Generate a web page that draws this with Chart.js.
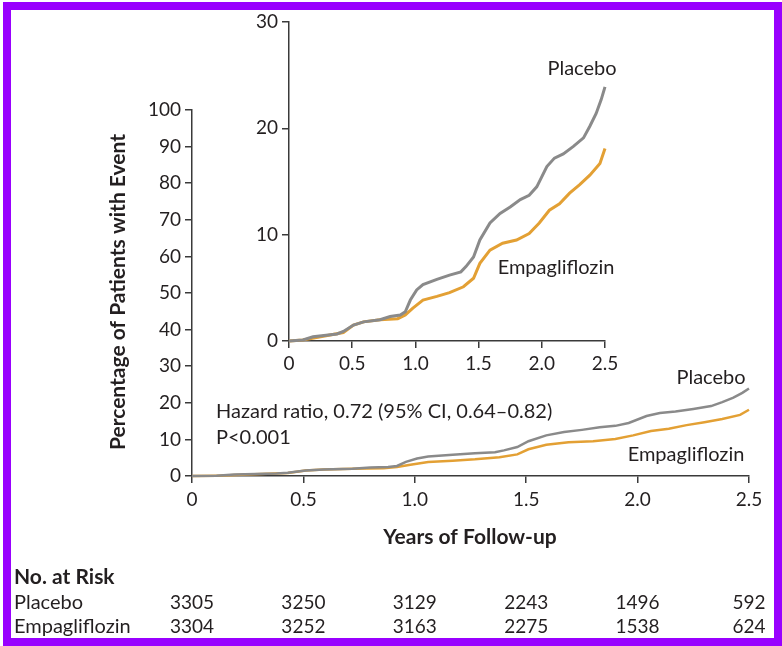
<!DOCTYPE html>
<html>
<head>
  <title>Empagliflozin vs Placebo</title>
  <script src="https://cdn.jsdelivr.net/npm/chart.js"></script>
  <style>
    body {
      margin: 0;
      background: #fff;
    }
    #wrap {
      position: relative;
      width: 782px;
      height: 646px;
      overflow: hidden;
    }
    canvas {
      position: absolute;
      left: 0;
      top: 0;
    }
    #frame {
      position: absolute;
      left: 3px;
      top: 2px;
      right: 0;
      bottom: 0;
      border: 8px solid #9900ff;
      pointer-events: none;
    }
  </style>
</head>
<body>
<div id="wrap">
  <canvas id="mainChart" width="782" height="646"></canvas>
  <canvas id="insetChart" width="782" height="646"></canvas>
  <div id="frame"></div>
</div>

<script>
  // tick labels
  const xTicks = [0, 0.5, 1, 1.5, 2, 2.5];
  const xTickLabels = ["0", "0.5", "1.0", "1.5", "2.0", "2.5"];

  // cumulative incidence
  const placeboYears = [0, 0.11, 0.19, 0.38, 0.43, 0.51, 0.59, 0.72, 0.80, 0.88, 0.92, 0.96, 1.01, 1.06, 1.17, 1.27, 1.36, 1.40, 1.46, 1.51, 1.59, 1.67, 1.75, 1.83, 1.90, 1.96, 2.04, 2.10, 2.17, 2.25, 2.33, 2.38, 2.43, 2.47, 2.50];
  const placeboPct = [0, 0.1, 0.4, 0.66, 0.9, 1.5, 1.8, 2.0, 2.3, 2.45, 2.75, 3.85, 4.8, 5.3, 5.8, 6.2, 6.5, 7.0, 7.9, 9.5, 11.1, 12.0, 12.6, 13.3, 13.7, 14.5, 16.4, 17.2, 17.6, 18.3, 19.1, 20.2, 21.4, 22.7, 23.9];

  const empaYears = [0, 0.11, 0.25, 0.43, 0.51, 0.59, 0.72, 0.86, 0.92, 0.98, 1.06, 1.17, 1.27, 1.38, 1.46, 1.51, 1.59, 1.69, 1.80, 1.90, 1.98, 2.06, 2.14, 2.22, 2.30, 2.38, 2.46, 2.50];
  const empaPct = [0, 0.1, 0.4, 0.8, 1.5, 1.8, 2.0, 2.1, 2.45, 3.1, 3.85, 4.2, 4.55, 5.1, 5.9, 7.3, 8.55, 9.2, 9.5, 10.1, 11.1, 12.3, 12.9, 13.9, 14.7, 15.6, 16.7, 18.1];

  // number at risk
  const riskPlacebo = [3305, 3250, 3129, 2243, 1496, 592];
  const riskEmpa = [3304, 3252, 3163, 2275, 1538, 624];

  const ink = "#231f20";
  const axisColor = "#3a3a3a";
  const grayLine = "#8a8a8a";
  const goldLine = "#e3a034";
  const fontName = "Lato, sans-serif";

  Chart.defaults.font.family = fontName;
  Chart.defaults.font.size = 19;
  Chart.defaults.color = ink;

  function toPoints(xs, ys) {
    return xs.map((x, i) => ({ x: x, y: ys[i] }));
  }

  function makeDatasets(width) {
    return [
      { label: "Placebo", data: toPoints(placeboYears, placeboPct), borderColor: grayLine,
        borderWidth: width, pointRadius: 0, tension: 0, clip: false },
      { label: "Empagliflozin", data: toPoints(empaYears, empaPct), borderColor: goldLine,
        borderWidth: width, pointRadius: 0, tension: 0, clip: false }
    ];
  }

  function makeScales(yMax, yWidth, xHeight, xPad) {
    return {
      x: {
        type: "linear", min: 0, max: 2.5,
        afterBuildTicks: s => { s.ticks = xTicks.map(v => ({ value: v })); },
        afterFit: s => { s.height = xHeight; },
        border: { color: axisColor, width: 1.5 },
        grid: { drawOnChartArea: false, color: axisColor, lineWidth: 1.5, tickLength: 7 },
        ticks: { padding: xPad, maxRotation: 0, autoSkip: false, callback: (v, i) => xTickLabels[i] }
      },
      y: {
        min: 0, max: yMax,
        afterFit: s => { s.width = yWidth; },
        border: { color: axisColor, width: 1.5 },
        grid: { drawOnChartArea: false, color: axisColor, lineWidth: 1.5, tickLength: 7 },
        ticks: { stepSize: 10, padding: 4, autoSkip: false }
      }
    };
  }

  function drawText(ctx, text, x, y, align, weight, size) {
    ctx.save();
    ctx.font = (weight || "normal") + " " + (size || 20) + "px " + fontName;
    ctx.fillStyle = ink;
    ctx.textAlign = align || "left";
    ctx.textBaseline = "middle";
    ctx.fillText(text, x, y);
    ctx.restore();
  }

  const mainText = {
    id: "mainText",
    afterDraw(chart) {
      const ctx = chart.ctx;
      const xs = chart.scales.x;

      drawText(ctx, "Placebo", 711, 378, "center");
      drawText(ctx, "Empagliflozin", 686, 455, "center");
      drawText(ctx, "Hazard ratio, 0.72 (95% CI, 0.64\u20130.82)", 216, 412);
      drawText(ctx, "P<0.001", 216, 438);

      // axis titles
      ctx.save();
      ctx.translate(118, 292);
      ctx.rotate(-Math.PI / 2);
      drawText(ctx, "Percentage of Patients with Event", 0, 0, "center", "bold", 21);
      ctx.restore();
      drawText(ctx, "Years of Follow-up", 470, 537, "center", "bold", 21);

      // at-risk table
      drawText(ctx, "No. at Risk", 14, 577, "left", "bold", 21);
      drawText(ctx, "Placebo", 14, 603);
      drawText(ctx, "Empagliflozin", 14, 627);
      xTicks.forEach((v, i) => {
        const px = xs.getPixelForValue(v);
        drawText(ctx, String(riskPlacebo[i]), px, 603, "center", "normal", 19);
        drawText(ctx, String(riskEmpa[i]), px, 627, "center", "normal", 19);
      });
    }
  };

  const insetText = {
    id: "insetText",
    afterDraw(chart) {
      drawText(chart.ctx, "Placebo", 582, 69, "center");
      drawText(chart.ctx, "Empagliflozin", 556, 268, "center");
    }
  };

  new Chart(document.getElementById("mainChart"), {
    type: "line",
    data: { datasets: makeDatasets(2.5) },
    options: {
      responsive: false,
      animation: false,
      devicePixelRatio: 1,
      layout: { padding: { left: 0, top: 110, right: 33, bottom: 130 } },
      plugins: { legend: { display: false }, tooltip: { enabled: false } },
      scales: makeScales(100, 192, 40, 5)
    },
    plugins: [mainText]
  });

  new Chart(document.getElementById("insetChart"), {
    type: "line",
    data: { datasets: makeDatasets(3) },
    options: {
      responsive: false,
      animation: false,
      devicePixelRatio: 1,
      layout: { padding: { left: 0, top: 22, right: 177, bottom: 270 } },
      plugins: { legend: { display: false }, tooltip: { enabled: false } },
      scales: makeScales(30, 289, 35, 4)
    },
    plugins: [insetText]
  });
</script>

</body>
</html>
